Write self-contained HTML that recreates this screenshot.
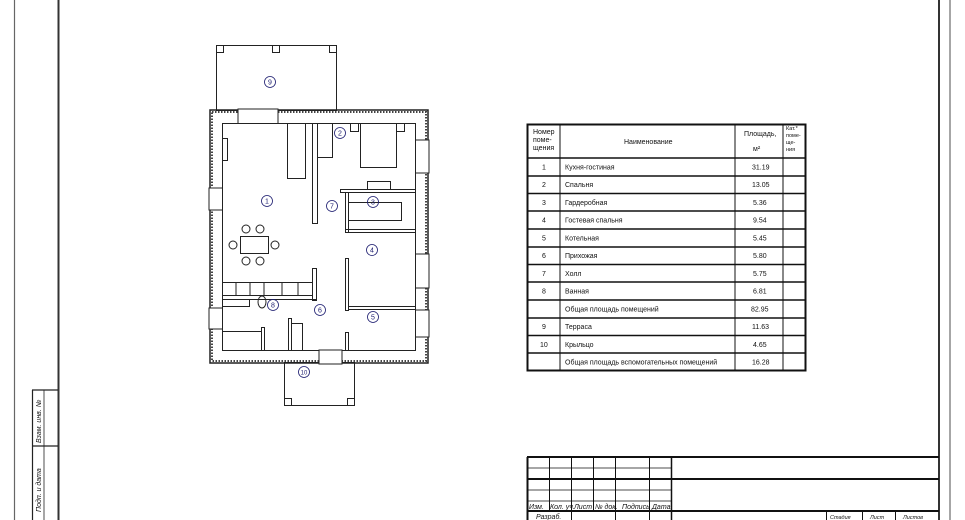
<!DOCTYPE html>
<html><head><meta charset="utf-8"><style>
html,body{margin:0;padding:0;background:#fff;}
svg{display:block;font-family:"Liberation Sans","DejaVu Sans",sans-serif;}
.t{font-size:7px;fill:#111;}
.n{font-size:7px;fill:#1a1a6e;text-anchor:middle;}
</style></head><body>
<svg width="965" height="520" viewBox="0 0 965 520" xmlns="http://www.w3.org/2000/svg">
<rect width="965" height="520" fill="#fff"/>
<!-- frame -->
<line x1="14.5" y1="0" x2="14.5" y2="520" stroke="#666" stroke-width="1.2"/>
<line x1="58.5" y1="0" x2="58.5" y2="520" stroke="#333" stroke-width="2"/>
<line x1="939" y1="0" x2="939" y2="520" stroke="#333" stroke-width="2"/>
<line x1="950" y1="0" x2="950" y2="520" stroke="#888" stroke-width="1.5"/>
<!-- side stamp -->
<g stroke="#222" stroke-width="1.2" fill="none">
<line x1="32.5" y1="390" x2="32.5" y2="520"/>
<line x1="44" y1="390" x2="44" y2="520" stroke-width="0.8"/>
<line x1="32" y1="390" x2="58" y2="390"/>
<line x1="32" y1="446" x2="58" y2="446"/>
</g>
<text class="t" transform="translate(41,443) rotate(-90)" font-style="italic" font-size="7">Взам. инв. №</text>
<text class="t" transform="translate(41,512) rotate(-90)" font-style="italic" font-size="7">Подп. и дата</text>

<!-- terrace 9 -->
<g stroke="#222" stroke-width="1" fill="none">
<rect x="216.5" y="45.5" width="120" height="65"/>
<rect x="216.5" y="45.5" width="7" height="7"/>
<rect x="272.5" y="45.5" width="7" height="7"/>
<rect x="329.5" y="45.5" width="7" height="7"/>
<!-- porch 10 -->
<rect x="284.5" y="362.5" width="70" height="43"/>
<rect x="284.5" y="398.5" width="7" height="7"/>
<rect x="347.5" y="398.5" width="7" height="7"/>
</g>
<!-- outer walls -->
<rect x="210" y="110" width="218" height="253" fill="none" stroke="#222" stroke-width="1.5"/>
<rect x="212" y="112" width="214" height="249" fill="none" stroke="#444" stroke-width="2" stroke-dasharray="1.5 1.5"/>
<rect x="222.5" y="123.5" width="193" height="227" fill="none" stroke="#222" stroke-width="1"/>
<!-- openings -->
<g fill="#fff" stroke="#222" stroke-width="1">
<rect x="238" y="109" width="40" height="14.5"/>
<rect x="319" y="350" width="23" height="14"/>
<rect x="209" y="188" width="13.5" height="22"/>
<rect x="209" y="308" width="13.5" height="21"/>
<rect x="415.5" y="140" width="13.5" height="33"/>
<rect x="415.5" y="254" width="13.5" height="34"/>
<rect x="415.5" y="310" width="13.5" height="27"/>
</g>
<!-- interior -->
<g stroke="#222" stroke-width="1" fill="none">
<rect x="287.5" y="123.5" width="18" height="55"/>
<line x1="305.5" y1="124" x2="305.5" y2="178"/>
<rect x="312.5" y="123.5" width="5" height="100" fill="#fff"/>
<rect x="317.5" y="123.5" width="15" height="34"/>
<rect x="360.5" y="123.5" width="36" height="44"/>
<rect x="350.5" y="123.5" width="8" height="8"/>
<rect x="396.5" y="123.5" width="8" height="8"/>
<rect x="367.5" y="181.5" width="23" height="8"/>
<rect x="340.5" y="189.5" width="75" height="3"/>
<rect x="345.5" y="192.5" width="3" height="40"/>
<polyline points="348.5,202.5 401.5,202.5 401.5,220.5 348.5,220.5"/>
<rect x="345.5" y="229.5" width="70" height="3"/>
<rect x="345.5" y="258.5" width="3" height="52"/>
<rect x="348.5" y="306.5" width="67" height="3"/>
<rect x="345.5" y="332.5" width="3" height="18"/>
<rect x="312.5" y="268.5" width="4" height="32"/>
<rect x="222.5" y="282.5" width="90" height="13"/>
<line x1="236" y1="283" x2="236" y2="295"/><line x1="250" y1="283" x2="250" y2="295"/>
<line x1="264" y1="283" x2="264" y2="295"/><line x1="282" y1="283" x2="282" y2="295"/>
<line x1="298" y1="283" x2="298" y2="295"/>
<line x1="222" y1="299.5" x2="316" y2="299.5"/>
<rect x="222.5" y="299.5" width="27" height="7"/>
<ellipse cx="262" cy="302" rx="4" ry="6"/>
<rect x="222.5" y="331.5" width="39" height="19"/>
<rect x="261.5" y="327.5" width="3" height="23"/>
<rect x="288.5" y="318.5" width="3" height="32"/>
<rect x="291.5" y="323.5" width="11" height="27"/>
<rect x="222.5" y="138.5" width="5" height="22"/>
<rect x="240.5" y="236.5" width="28" height="17"/>
<circle cx="246" cy="229" r="4"/><circle cx="260" cy="229" r="4"/>
<circle cx="233" cy="245" r="4"/><circle cx="275" cy="245" r="4"/>
<circle cx="246" cy="261" r="4"/><circle cx="260" cy="261" r="4"/>
</g>
<!-- room labels -->
<g stroke="#1a1a6e" stroke-width="0.8" fill="none">
<circle cx="267" cy="201" r="5.5"/><circle cx="340" cy="133" r="5.5"/>
<circle cx="373" cy="202" r="5.5"/><circle cx="372" cy="250" r="5.5"/>
<circle cx="373" cy="317" r="5.5"/><circle cx="320" cy="310" r="5.5"/>
<circle cx="332" cy="206" r="5.5"/><circle cx="273" cy="305" r="5.5"/>
<circle cx="270" cy="82" r="5.5"/><circle cx="304" cy="372" r="5.5"/>
</g>
<g class="n">
<text x="267" y="203.5">1</text><text x="340" y="135.5">2</text>
<text x="373" y="204.5">3</text><text x="372" y="252.5">4</text>
<text x="373" y="319.5">5</text><text x="320" y="312.5">6</text>
<text x="332" y="208.5">7</text><text x="273" y="307.5">8</text>
<text x="270" y="84.5">9</text><text x="304" y="374.5" font-size="6">10</text>
</g>

<!-- table -->
<g stroke="#111" fill="none">
<rect x="527.5" y="124.5" width="278" height="246" stroke-width="2"/>
<line x1="560" y1="124" x2="560" y2="371" stroke-width="1"/>
<line x1="735" y1="124" x2="735" y2="371" stroke-width="1"/>
<line x1="783" y1="124" x2="783" y2="371" stroke-width="1"/>
<g stroke-width="1.5">
<line x1="527" y1="158" x2="806" y2="158"/><line x1="527" y1="176" x2="806" y2="176"/>
<line x1="527" y1="193.5" x2="806" y2="193.5"/><line x1="527" y1="211" x2="806" y2="211"/>
<line x1="527" y1="229" x2="806" y2="229"/><line x1="527" y1="247" x2="806" y2="247"/>
<line x1="527" y1="264.5" x2="806" y2="264.5"/><line x1="527" y1="282" x2="806" y2="282"/>
<line x1="527" y1="300" x2="806" y2="300"/><line x1="527" y1="318" x2="806" y2="318"/>
<line x1="527" y1="335.5" x2="806" y2="335.5"/><line x1="527" y1="353" x2="806" y2="353"/>
</g>
</g>
<g class="t" font-size="6.5">
<text x="533" y="134">Номер</text><text x="533" y="142">поме-</text><text x="533" y="150">щения</text>
<text x="624" y="144">Наименование</text>
<text x="744" y="136">Площадь,</text><text x="753" y="151">м²</text>
<text x="786" y="130" font-size="5.5">Кат.*</text><text x="786" y="137" font-size="5.5">поме-</text>
<text x="786" y="144" font-size="5.5">ще-</text><text x="786" y="151" font-size="5.5">ния</text>
</g>
<g class="t" font-size="6.5">
<text x="542" y="169.5">1</text><text x="565" y="169.5">Кухня-гостиная</text><text x="752" y="169.5">31.19</text>
<text x="542" y="187">2</text><text x="565" y="187">Спальня</text><text x="752" y="187">13.05</text>
<text x="542" y="205">3</text><text x="565" y="205">Гардеробная</text><text x="753" y="205">5.36</text>
<text x="542" y="222.5">4</text><text x="565" y="222.5">Гостевая спальня</text><text x="753" y="222.5">9.54</text>
<text x="542" y="240.5">5</text><text x="565" y="240.5">Котельная</text><text x="753" y="240.5">5.45</text>
<text x="542" y="258">6</text><text x="565" y="258">Прихожая</text><text x="753" y="258">5.80</text>
<text x="542" y="276">7</text><text x="565" y="276">Холл</text><text x="753" y="276">5.75</text>
<text x="542" y="293.5">8</text><text x="565" y="293.5">Ванная</text><text x="753" y="293.5">6.81</text>
<text x="565" y="311.5">Общая площадь помещений</text><text x="751" y="311.5">82.95</text>
<text x="542" y="329">9</text><text x="565" y="329">Терраса</text><text x="752" y="329">11.63</text>
<text x="540" y="347">10</text><text x="565" y="347">Крыльцо</text><text x="753" y="347">4.65</text>
<text x="565" y="364.5">Общая площадь вспомогательных помещений</text><text x="752" y="364.5">16.28</text>
</g>

<!-- title block -->
<g stroke="#111" fill="none">
<line x1="527" y1="457" x2="939" y2="457" stroke-width="2"/>
<line x1="527.5" y1="457" x2="527.5" y2="520" stroke-width="2"/>
<line x1="527" y1="479" x2="939" y2="479" stroke-width="2"/>
<line x1="527" y1="511" x2="939" y2="511" stroke-width="2"/>
<line x1="527" y1="468" x2="671" y2="468" stroke-width="0.8"/>
<line x1="527" y1="490" x2="671" y2="490" stroke-width="0.8"/>
<line x1="527" y1="501" x2="671" y2="501" stroke-width="0.8"/>
<line x1="549.5" y1="457" x2="549.5" y2="511" stroke-width="1"/>
<line x1="571.5" y1="457" x2="571.5" y2="520" stroke-width="1"/>
<line x1="593.5" y1="457" x2="593.5" y2="511" stroke-width="1"/>
<line x1="615.5" y1="457" x2="615.5" y2="520" stroke-width="1"/>
<line x1="649.5" y1="457" x2="649.5" y2="520" stroke-width="1"/>
<line x1="671.5" y1="457" x2="671.5" y2="520" stroke-width="1.5"/>
<line x1="826.5" y1="511" x2="826.5" y2="520" stroke-width="1"/>
<line x1="862.5" y1="511" x2="862.5" y2="520" stroke-width="1"/>
<line x1="895.5" y1="511" x2="895.5" y2="520" stroke-width="1"/>
</g>
<g class="t" font-size="4.5" font-style="italic">
<text x="529" y="509">Изм.</text><text x="550" y="509">Кол. уч.</text><text x="574" y="509">Лист</text>
<text x="595" y="509">№ док.</text><text x="622" y="509">Подпись</text><text x="652" y="509">Дата</text>
<text x="536" y="519">Разраб.</text>
<text x="830" y="519" font-size="5.5">Стадия</text><text x="870" y="519" font-size="5.5">Лист</text><text x="903" y="519" font-size="5.5">Листов</text>
</g>
</svg>
</body></html>
